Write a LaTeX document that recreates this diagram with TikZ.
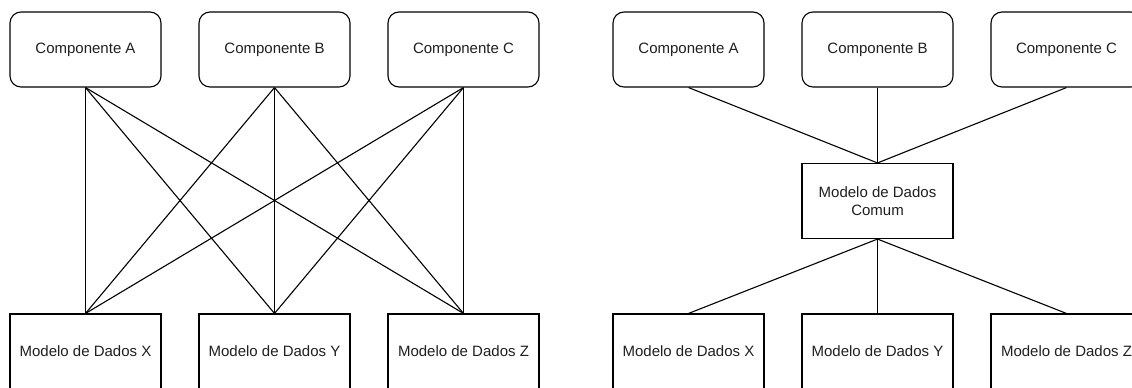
\documentclass[tikz,border=0pt]{standalone}
\usepackage{fontspec}
\setmainfont{Liberation Sans}
\begin{document}
\begin{tikzpicture}[x=1pt,y=-1pt,
  box/.style={draw=black,line width=1.1pt,minimum width=151pt,minimum height=75pt,
    inner sep=0pt,align=center,font=\fontsize{15}{17.5}\selectfont,text=black!88},
  comp/.style={box,rounded corners=11pt},
  link/.style={line width=1.1pt,draw=black}]
\useasboundingbox (0,0) rectangle (1132,388);
% left: every component talks to every data model
\node[comp] (la) at (85.5,49.5) {Componente A};
\node[comp] (lb) at (274.5,49.5) {Componente B};
\node[comp] (lc) at (463.5,49.5) {Componente C};
\node[box] (lx) at (85.5,351.5) {Modelo de Dados X};
\node[box] (ly) at (274.5,351.5) {Modelo de Dados Y};
\node[box] (lz) at (463.5,351.5) {Modelo de Dados Z};
\foreach \c in {la,lb,lc}
  \foreach \m in {lx,ly,lz}
    \draw[link] (\c.south) -- (\m.north);
% right: a common data model in the middle
\node[comp] (ra) at (688.5,49.5) {Componente A};
\node[comp] (rb) at (877.5,49.5) {Componente B};
\node[comp] (rc) at (1066.5,49.5) {Componente C};
\node[box] (rm) at (877.5,201) {Modelo de Dados\\Comum};
\node[box] (rx) at (688.5,351.5) {Modelo de Dados X};
\node[box] (ry) at (877.5,351.5) {Modelo de Dados Y};
\node[box] (rz) at (1066.5,351.5) {Modelo de Dados Z};
\foreach \c in {ra,rb,rc}
  \draw[link] (\c.south) -- (rm.north);
\foreach \m in {rx,ry,rz}
  \draw[link] (rm.south) -- (\m.north);
\end{tikzpicture}
\end{document}
